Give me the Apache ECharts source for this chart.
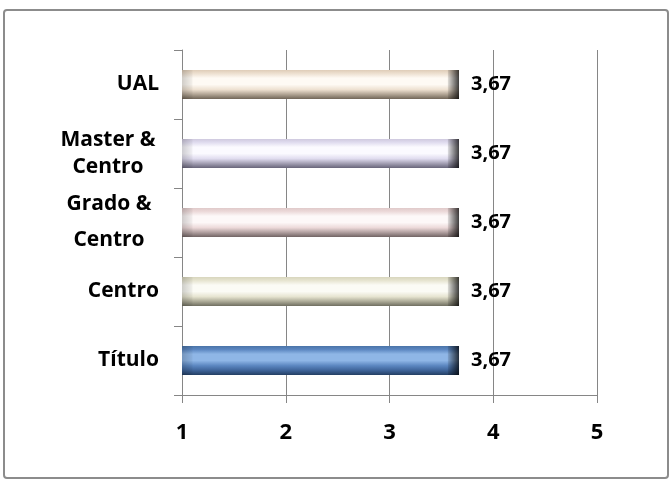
<!DOCTYPE html>
<html>
<head>
<meta charset="utf-8">
<script src="https://cdn.jsdelivr.net/npm/echarts@6/dist/echarts.min.js"></script>
<style>
html,body{margin:0;padding:0;background:#fff;}
#chart{width:672px;height:482px;}
</style>
</head>
<body>
<div id="chart"></div>
<script>
const categories = ['Título', 'Centro', 'Grado & Centro', 'Master & Centro', 'UAL'];
const values = [3.67, 3.67, 3.67, 3.67, 3.67];
const xTicks = [1, 2, 3, 4, 5];

// bevel palettes: [top edge, highlight, base, shade, bottom]
const palettes = [
  ['#4a74a8', '#8fb6e6', '#5b86c0', '#3d6296', '#243f63'],
  ['#d8d6bd', '#fbfbf5', '#e6e4d0', '#a9a794', '#6f6e60'],
  ['#e0caca', '#fdf8f8', '#ecd9d9', '#ad9c9c', '#716464'],
  ['#cfc9df', '#fbfaff', '#e0dcef', '#a09cb0', '#68657a'],
  ['#dfcdb8', '#fefaf4', '#ede0d0', '#ada090', '#716658']
];

function grad(p) {
  return new echarts.graphic.LinearGradient(0, 0, 0, 1, [
    {offset: 0, color: p[0]},
    {offset: 0.12, color: p[2]},
    {offset: 0.28, color: p[1]},
    {offset: 0.5, color: p[1]},
    {offset: 0.68, color: p[2]},
    {offset: 0.85, color: p[3]},
    {offset: 1, color: p[4]}
  ]);
}

const chart = echarts.init(document.getElementById('chart'));
const font = '"Open Sans", "Noto Sans", sans-serif';

chart.setOption({
  animation: false,
  graphic: [{
    type: 'rect',
    shape: {x: 4, y: 10, width: 664, height: 468, r: 3},
    style: {fill: 'none', stroke: '#8c8c8c', lineWidth: 2},
    silent: true
  }],
  grid: {left: 182, right: 75, top: 50, bottom: 87},
  xAxis: {
    type: 'value',
    min: xTicks[0],
    max: xTicks[xTicks.length - 1],
    interval: 1,
    startValue: xTicks[0],
    axisLine: {show: true, lineStyle: {color: '#868686', width: 1}},
    axisTick: {show: true, length: 8, lineStyle: {color: '#868686'}},
    splitLine: {show: true, lineStyle: {color: '#868686', width: 1}},
    axisLabel: {
      margin: 27,
      fontFamily: font, fontWeight: 'bold', fontSize: 22, color: '#000',
      formatter: v => String(v)
    }
  },
  yAxis: {
    type: 'category',
    data: categories,
    axisLine: {show: true, lineStyle: {color: '#868686', width: 1}},
    axisTick: {show: true, length: 8, lineStyle: {color: '#868686'}},
    splitLine: {show: false},
    axisLabel: {
      margin: 23,
      fontFamily: font, fontWeight: 'bold', fontSize: 21, color: '#000',
      formatter: function (v) {
        if (v.indexOf('&') >= 0) {
          const a = v.slice(0, v.indexOf('&') + 1);
          const b = v.slice(v.indexOf('&') + 2);
          const st = v.indexOf('Grado') === 0 ? 'g' : 'c';
          return '{' + st + '|' + a + '}\n{' + st + '|' + b + '}';
        }
        return v;
      },
      rich: {
        c: {width: 102, align: 'center', lineHeight: 27, fontFamily: font, fontWeight: 'bold', fontSize: 21, color: '#000'},
        g: {width: 100, align: 'center', lineHeight: 36, fontFamily: font, fontWeight: 'bold', fontSize: 21, color: '#000'}
      }
    }
  },
  series: [
    {
      type: 'bar',
      barWidth: 29,
      clip: true,
      data: values.map((v, i) => ({value: v, itemStyle: {color: grad(palettes[i])}})),
      label: {
        show: true, position: 'right', distance: 12,
        fontFamily: font, fontWeight: 'bold', fontSize: 20, color: '#000',
        formatter: p => p.value.toFixed(2).replace('.', ',')
      }
    },
    {
      type: 'bar',
      barWidth: 29,
      barGap: '-100%',
      clip: true,
      silent: true,
      data: values,
      itemStyle: {
        color: new echarts.graphic.LinearGradient(0, 0, 1, 0, [
          {offset: 0, color: 'rgba(0,0,0,0.18)'},
          {offset: 0.035, color: 'rgba(0,0,0,0.05)'},
          {offset: 0.04, color: 'rgba(0,0,0,0)'},
          {offset: 0.958, color: 'rgba(0,0,0,0)'},
          {offset: 0.962, color: 'rgba(0,0,0,0.15)'},
          {offset: 1, color: 'rgba(0,0,0,0.75)'}
        ])
      }
    }
  ]
});
</script>
</body>
</html>
